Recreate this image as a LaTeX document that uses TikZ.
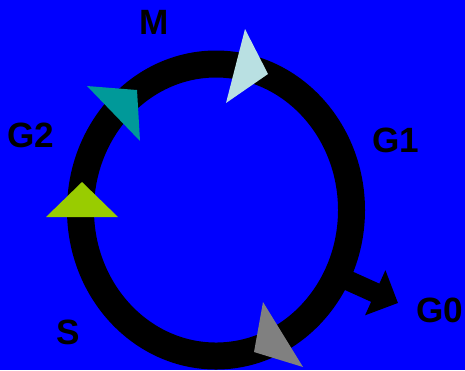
\documentclass[tikz,border=0pt]{standalone}
\usepackage{fontspec}
\setmainfont{Liberation Sans}
\usetikzlibrary{arrows.meta}
\definecolor{C1}{RGB}{0,0,255}
\definecolor{CM}{RGB}{185,224,226}
\definecolor{CG2}{RGB}{0,153,153}
\definecolor{CS}{RGB}{153,204,0}
\definecolor{CG1}{RGB}{128,128,128}

\begin{document}
\begin{tikzpicture}[x=0.02cm,y=-0.02cm,
      phase/.style={font=\fontsize{20}{24}\selectfont\bfseries,
                    inner sep=0pt},
      ring/.style={draw=black,line width=0.54cm},
      exitarr/.style={black,line width=0.4cm,
                      -{Triangle[length=0.5cm,width=0.96cm]}}]
    \fill[C1] (0,0) rectangle (465,370);
    \useasboundingbox (0,0) rectangle (465,370);
    % cycle
    \draw[ring] (216,210) ellipse [x radius=135.5, y radius=146];
    \coordinate (exit) at (336,275);
    \coordinate (tip) at (398,303);
    \draw[exitarr] (exit) -- (tip);
    % arrowheads on the ring
    \fill[CM] (245,29) -- (268,74) -- (226,103) -- cycle;
    \fill[CG2] (87,86) -- (137,90) -- (140,141) -- cycle;
    \fill[CS] (82,182) -- (46,217) -- (118,217) -- cycle;
    \fill[CG1] (263,302) -- (303,367) -- (254,352) -- cycle;
    % phases
    \node[phase] (m) at (154,22) {M};
    \node[phase] (g1) at (396,140) {G1};
    \node[phase] (g2) at (31,135) {G2};
    \node[phase] (s) at (68,332) {S};
    \node[phase] (g0) at (440,310) {G0};
  \end{tikzpicture}
\end{document}
